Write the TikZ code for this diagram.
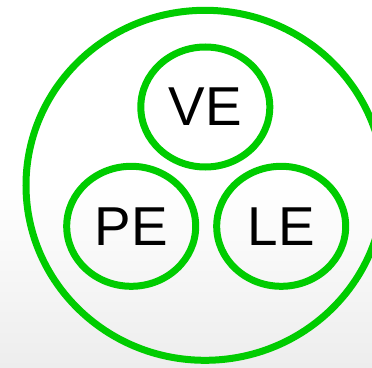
\documentclass[tikz,border=0pt]{standalone}
\usepackage{fontspec}
\newfontfamily\labfont{Liberation Sans}
\usetikzlibrary{shapes.geometric}
\definecolor{ringgreen}{HTML}{00CC00}
\definecolor{bggray}{HTML}{EDEDED}
\tikzset{
  ring/.style={ellipse,draw=ringgreen,line width=7bp,inner sep=0pt},
  part/.style={ring,minimum width=129bp,minimum height=120bp,font=\labfont\fontsize{55}{60}\selectfont,text=black}
}
\begin{document}
\begin{tikzpicture}[x=1bp,y=1bp]
\useasboundingbox (0,0) rectangle (372,368);
\clip (0,0) rectangle (372,368);
\shade[top color=white,bottom color=bggray,middle color=white] (0,0) rectangle (372,368);
\node[ring,minimum width=358bp,minimum height=350bp] (outer) at (205,182.7) {};
\node[part] (ve) at (205.3,261) {VE};
\node[part] (pe) at (131.2,141.7) {PE};
\node[part] (le) at (281.2,141.7) {LE};
\end{tikzpicture}
\end{document}
